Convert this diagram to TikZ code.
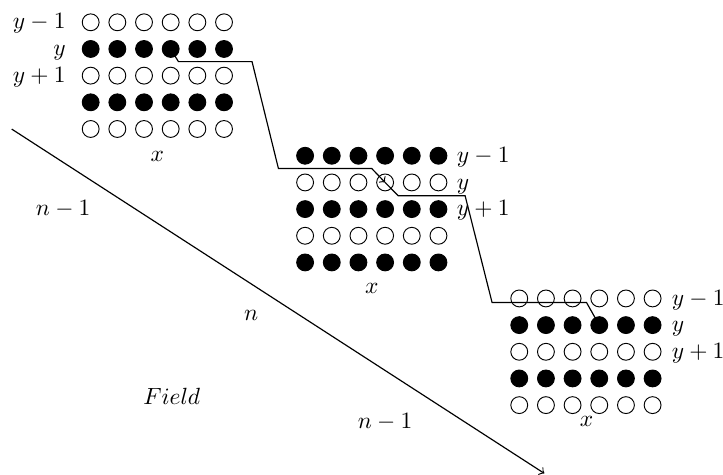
\documentclass[tikz,border=0pt]{standalone}
\usepackage{amsmath,amssymb}
\usetikzlibrary{positioning}

\begin{document}
\begin{tikzpicture}[x=0.4cm,y=0.4cm,line width=0.5pt,
        dot/.style = {circle, draw, thin, inner sep=0pt, minimum size=7.2pt},
        lab/.style = {text height=6.5pt, text depth=0.8pt}]
        \useasboundingbox (0,0) rectangle (27.11,-17.81);
        % first block
        \foreach \r/\f in {1/none,2/black,3/none,4/black,5/none}
            \foreach \c in {1,...,6}
                \node[dot, fill=\f] (A-\c-\r) at ({3.4+\c-1},{-0.836-\r+1}) {};
        % second block
        \foreach \r/\f in {1/black,2/none,3/black,4/none,5/black}
            \foreach \c in {1,...,6}
                \node[dot, fill=\f] (B-\c-\r) at ({11.44+\c-1},{-5.84-\r+1}) {};
        % third block
        \foreach \r/\f in {1/none,2/black,3/none,4/black,5/none}
            \foreach \c in {1,...,6}
                \node[dot, fill=\f] (C-\c-\r) at ({19.47+\c-1},{-11.19-\r+1}) {};
        \node[lab, left=3.3pt of A-1-1] (A-ym) {$y-1$};
        \node[lab, left=3.3pt of A-1-2] (A-y) {$y$};
        \node[lab, left=3.3pt of A-1-3] (A-yp) {$y+1$};
        \node[lab, right=0.5pt of B-6-1] (B-ym) {$y-1$};
        \node[lab, right=0.5pt of B-6-2] (B-y) {$y$};
        \node[lab, right=0.5pt of B-6-3] (B-yp) {$y+1$};
        \node[lab, right=0.8pt of C-6-1] (C-ym) {$y-1$};
        \node[lab, right=0.8pt of C-6-2] (C-y) {$y$};
        \node[lab, right=0.8pt of C-6-3] (C-yp) {$y+1$};
        \node (A-x) at (5.9,-5.85) {$x$};
        \node (B-x) at (13.94,-10.82) {$x$};
        \node (C-x) at (21.99,-15.8) {$x$};
        % path through the blocks
        \draw[->] (A-4-2.center) -- (6.69,-2.31) -- (9.45,-2.31) -- (10.44,-6.32)
            -- (13.94,-6.32) -- (B-4-2.center);
        \draw[->] (B-4-2.center) -- (14.93,-7.34) -- (17.44,-7.34) -- (18.45,-11.34)
            -- (21.99,-11.34) -- (C-4-2.center);
        % border of the field
        \coordinate (start) at (0.44,-4.84);
        \coordinate (end) at (20.41,-17.75);
        \draw[->] (start) -- (end);
        \node (nA) at (2.37,-7.84) {$n-1$};
        \node (nB) at (9.42,-11.81) {$n$};
        \node (fld) at (6.44,-14.87) {$Field$};
        \node (nC) at (14.44,-15.83) {$n-1$};
    \end{tikzpicture}
\end{document}
